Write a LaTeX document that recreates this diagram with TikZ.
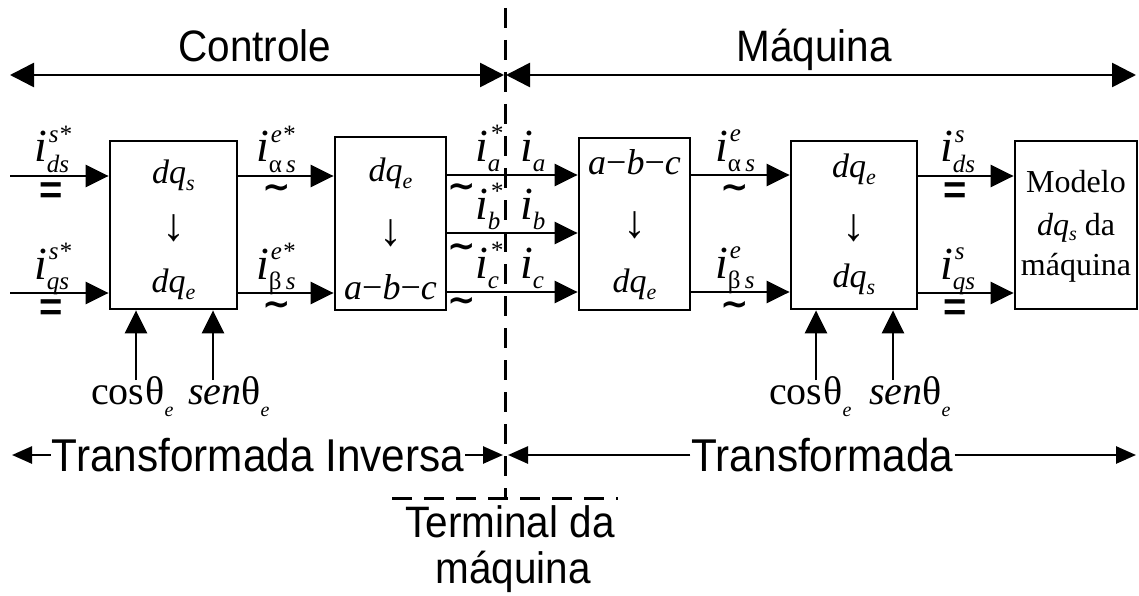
\documentclass[tikz,border=0pt]{standalone}
\usepackage{fontspec}
\usepackage{graphicx}
\setmainfont{Liberation Serif}
\newfontfamily\arialf{Liberation Sans}
\newfontfamily\dvs{DejaVu Sans}
\usetikzlibrary{arrows.meta}
\newcommand{\fsz}[1]{\fontsize{#1}{#1}\selectfont}
\newcommand{\curr}[2]{{\fsz{46}\itshape i}\rlap{\kern2pt\raisebox{20pt}{\fsz{25}\itshape #2}}\raisebox{-10pt}{\fsz{25}\itshape #1}}
\newcommand{\gr}[1]{{\upshape #1}}
\newcommand{\blktxt}[2]{{\fsz{34}\itshape #1}\raisebox{-7pt}{\fsz{22}\itshape #2}}
\newcommand{\abc}{{\fsz{36}\itshape a\upshape−\itshape b\upshape−\itshape c}}
\newcommand{\dn}{{\fsz{46}↓}}
\newcommand{\tld}{{\dvs\bfseries\fsz{34}∼}}
\newcommand{\eqs}{{\arialf\bfseries\fsz{40}=}}
\newcommand{\nar}[1]{\scalebox{0.92}[1]{#1}}
\begin{document}
\begin{tikzpicture}[x=1pt,y=-1pt,
 arr/.style={-{Triangle[length=23pt,width=22pt]},line width=2.6pt},
 darr/.style={{Triangle[length=24pt,width=24pt]}-{Triangle[length=24pt,width=24pt]},line width=2.6pt},
 sarr/.style={-{Triangle[length=20pt,width=17pt]},line width=2.6pt},
 blk/.style={draw,line width=2.8pt,inner sep=0pt},
 dsh/.style={line width=3pt,dash pattern=on 20pt off 12pt},
 lbl/.style={inner sep=0pt,anchor=base west},
 ctr/.style={inner sep=0pt,anchor=base},
 mid/.style={inner sep=0pt,anchor=center},
 sans/.style={inner sep=0pt,font=\arialf\fsz{44}},
]
\useasboundingbox (0,0) rectangle (1139,596);
% blocks
\node[blk,minimum width=127pt,minimum height=168pt] (b1) at (173.5,225) {};
\node[blk,minimum width=111pt,minimum height=173pt] (b2) at (390.5,223.5) {};
\node[blk,minimum width=111pt,minimum height=172pt] (b3) at (634.5,224) {};
\node[blk,minimum width=126pt,minimum height=168pt] (b4) at (854,225) {};
\node[blk,minimum width=122pt,minimum height=168pt] (b5) at (1076,225) {};
% block texts
\node[ctr] (t1a) at (173.5,183) {\blktxt{dq}{s}};
\node[mid] (t1b) at (173.5,228) {\dn};
\node[ctr] (t1c) at (173.5,292) {\blktxt{dq}{e}};
\node[ctr] (t2a) at (390.5,182) {\blktxt{dq}{e}};
\node[mid] (t2b) at (390.5,233) {\dn};
\node[ctr] (t2c) at (390.5,299) {\abc};
\node[ctr] (t3a) at (634.5,175) {\abc};
\node[mid] (t3b) at (634.5,225) {\dn};
\node[ctr] (t3c) at (634.5,292) {\blktxt{dq}{e}};
\node[ctr] (t4a) at (854,178) {\blktxt{dq}{e}};
\node[mid] (t4b) at (854,228) {\dn};
\node[ctr] (t4c) at (854,287) {\blktxt{dq}{s}};
\node[ctr,font=\fsz{32}] (t5a) at (1076,193) {Modelo};
\node[ctr,font=\fsz{32}] (t5b) at (1076,235) {{\itshape dq}\raisebox{-5pt}{\fsz{20}\itshape s} da};
\node[ctr,font=\fsz{32}] (t5c) at (1076,275) {máquina};
% rows
\coordinate (r1) at (0,176); \coordinate (r2) at (0,293);
\coordinate (ra) at (0,175); \coordinate (rb) at (0,233); \coordinate (rc) at (0,292);
\coordinate (in1) at (10,176); \coordinate (in2) at (10,293);
\draw[arr] (in1) -- (in1 -| b1.west);
\draw[arr] (in2) -- (in2 -| b1.west);
\draw[arr] (b1.east |- r1) -- (b2.west |- r1);
\draw[arr] (b1.east |- r2) -- (b2.west |- r2);
\draw[arr] (b2.east |- ra) -- (b3.west |- ra);
\draw[arr] (b2.east |- rb) -- (b3.west |- rb);
\draw[arr] (b2.east |- rc) -- (b3.west |- rc);
\draw[arr] (b3.east |- ra) -- (b4.west |- ra);
\draw[arr] (b3.east |- rc) -- (b4.west |- rc);
\draw[arr] (b4.east |- r1) -- (b5.west |- r1);
\draw[arr] (b4.east |- r2) -- (b5.west |- r2);
% vertical inputs
\coordinate (c1) at (136,380); \coordinate (c2) at (213,380);
\coordinate (c3) at (816,380); \coordinate (c4) at (893,380);
\draw[arr] (c1) -- (c1 |- b1.south);
\draw[arr] (c2) -- (c2 |- b1.south);
\draw[arr] (c3) -- (c3 |- b4.south);
\draw[arr] (c4) -- (c4 |- b4.south);
\node[lbl,font=\fsz{40}] (cs1) at (91,404) {cos\kern1ptθ\raisebox{-12pt}{\fsz{20}\itshape e}};
\node[lbl,font=\fsz{40}] (sn1) at (188,404) {{\itshape sen}θ\raisebox{-12pt}{\fsz{20}\itshape e}};
\node[lbl,font=\fsz{40}] (cs2) at (769,404) {cos\kern1ptθ\raisebox{-12pt}{\fsz{20}\itshape e}};
\node[lbl,font=\fsz{40}] (sn2) at (869,404) {{\itshape sen}θ\raisebox{-12pt}{\fsz{20}\itshape e}};
% current labels
\node[lbl] (l1) at (34,162) {\curr{ds}{s*}};
\node[lbl] (l2) at (34,279) {\curr{qs}{s*}};
\node[lbl] (l3) at (256,162) {\curr{\gr{α}\,s}{e*}};
\node[lbl] (l4) at (256,279) {\curr{\gr{β}\,s}{e*}};
\node[lbl] (l5) at (475,161) {\curr{a}{*}};
\node[lbl] (l6) at (475,219) {\curr{b}{*}};
\node[lbl] (l7) at (475,278) {\curr{c}{*}};
\node[lbl] (l8) at (520,161) {\curr{a}{}};
\node[lbl] (l9) at (520,219) {\curr{b}{}};
\node[lbl] (l10) at (520,278) {\curr{c}{}};
\node[lbl] (l11) at (715,161) {\curr{\gr{α}\,s}{e}};
\node[lbl] (l12) at (715,278) {\curr{\gr{β}\,s}{e}};
\node[lbl] (l13) at (940,162) {\curr{ds}{s}};
\node[lbl] (l14) at (940,279) {\curr{qs}{s}};
% = and ~
\node[mid] (e1) at (51,193) {\eqs};
\node[mid] (e2) at (51,310) {\eqs};
\node[mid] (e3) at (955,193) {\eqs};
\node[mid] (e4) at (955,310) {\eqs};
\node[mid] (w1) at (277,191) {\tld};
\node[mid] (w2) at (277,308) {\tld};
\node[mid] (w3) at (462,190) {\tld};
\node[mid] (w4) at (462,250) {\tld};
\node[mid] (w5) at (462,304) {\tld};
\node[mid] (w6) at (735,191) {\tld};
\node[mid] (w7) at (735,308) {\tld};
% dashed terminal lines
\coordinate (dt) at (505,8); \coordinate (db) at (505,498);
\coordinate (hl) at (392,498); \coordinate (hr) at (618,498);
\draw[dsh] (dt) -- (db);
\draw[dsh] (hl) -- (hr);
% top arrows
\coordinate (tl) at (10,75); \coordinate (tm1) at (504,75);
\coordinate (tm2) at (506,75); \coordinate (tr) at (1136,75);
\draw[darr] (tl) -- (tm1);
\draw[darr] (tm2) -- (tr);
\node[sans,anchor=base] (ctl) at (255,62) {\nar{Controle}};
\node[sans,anchor=base] (maq) at (814,62) {\nar{Máquina}};
% bottom arrows
\node[sans,font=\arialf\fsz{46},anchor=center,inner xsep=1pt] (ti) at (258,455) {\nar{Transformada Inversa}};
\coordinate (til) at (12,455); \coordinate (tir) at (503,455);
\draw[sarr] (ti.west) -- (til);
\draw[sarr] (ti.east) -- (tir);
\node[sans,font=\arialf\fsz{46},anchor=center,inner xsep=1pt] (tt) at (822.5,455) {\nar{Transformada}};
\coordinate (ttl) at (508,455); \coordinate (ttr) at (1136,455);
\draw[sarr] (tt.west) -- (ttl);
\draw[sarr] (tt.east) -- (ttr);
\node[sans,anchor=base] (term1) at (510,537) {\nar{Terminal da}};
\node[sans,anchor=base] (term2) at (513,583) {\nar{máquina}};
\end{tikzpicture}
\end{document}
